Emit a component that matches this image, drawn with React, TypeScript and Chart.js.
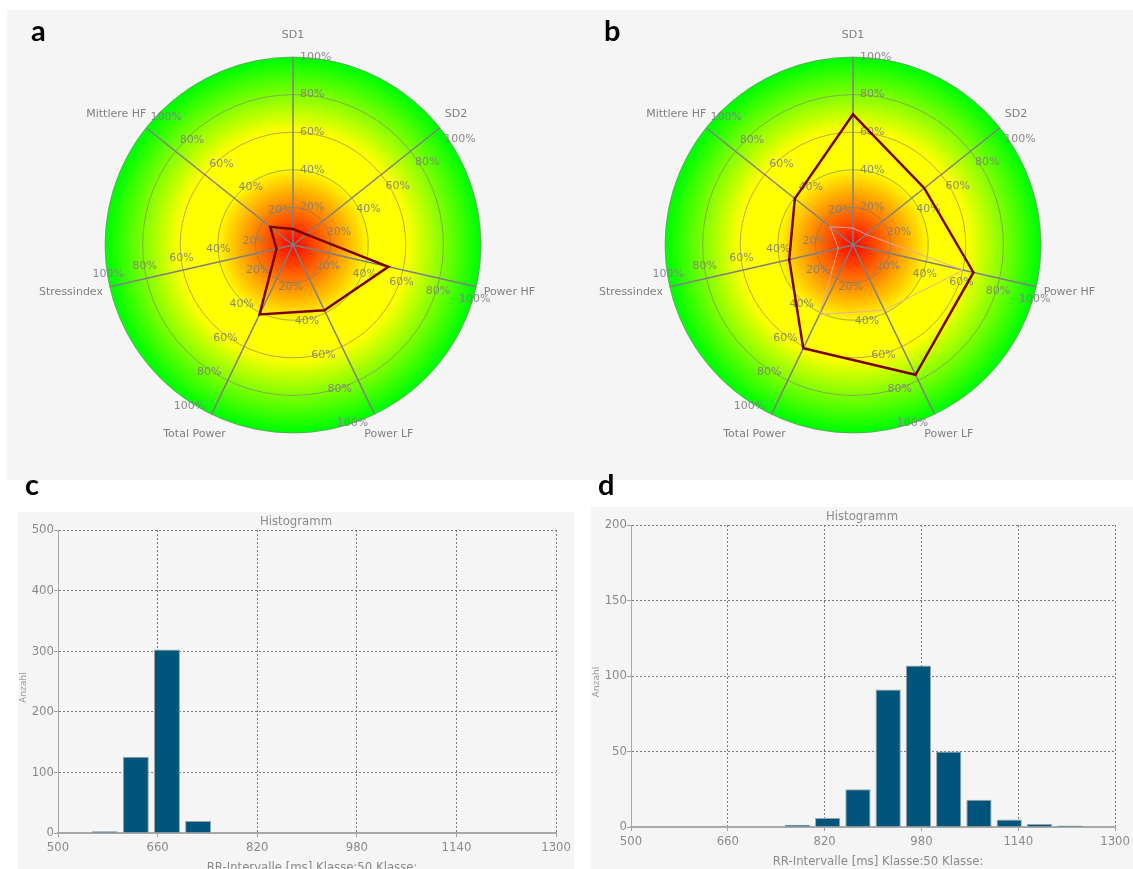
import React, { useEffect, useRef } from "react";
import { Chart, registerables } from "chart.js";

Chart.register(...registerables);

// ---------- data ----------
const radarAxes = ["SD1", "SD2", "Power HF", "Power LF", "Total Power", "Stressindex", "Mittlere HF"];
const radarTickValues = [20, 40, 60, 80, 100];
const radarValuesA = [8.5, 9, 52, 38.5, 41, 9, 15.5];
const radarValuesB = [69.5, 48.5, 65.7, 76.6, 61, 34.8, 39.6];
const radarReferenceB = [9, 9, 60, 38.5, 41, 8, 15.5];

const histXTicks = [500, 660, 820, 980, 1140, 1300];
const histBinsC = [575, 625, 675, 725];
const histCountsC = [3, 126, 303, 20];
const histYTicksC = [0, 100, 200, 300, 400, 500];
const histBinsD = [775, 825, 875, 925, 975, 1025, 1075, 1125, 1175, 1225];
const histCountsD = [1.5, 6, 25, 91, 107, 50, 18, 5, 2, 1];
const histYTicksD = [0, 50, 100, 150, 200];

const histTitle = "Histogramm";
const histXTitle = "RR-Intervalle [ms] Klasse:50 Klasse:";
const histYTitle = "Anzahl";

// ---------- styles ----------
const PANEL_BG = "#f5f5f5";
const RADAR_FONT = '11px "DejaVu Sans", Verdana, sans-serif';
const NARROW = '"Liberation Sans Narrow", "DejaVu Sans Condensed", "Liberation Sans", sans-serif';
const BAR_COLOR = "rgb(2,85,122)";

function radarPlugins() {
  return [
    {
      id: "radarBg",
      beforeDraw(chart: any) {
        const s = chart.scales.r;
        const ctx = chart.ctx;
        const cx = s.xCenter, cy = s.yCenter, R = s.drawingArea;
        const g = ctx.createRadialGradient(cx, cy, 0, cx, cy, R);
        g.addColorStop(0, "rgb(255,0,0)");
        g.addColorStop(0.41, "rgb(255,255,0)");
        g.addColorStop(0.61, "rgb(255,255,0)");
        g.addColorStop(0.99, "rgb(0,255,0)");
        g.addColorStop(1, "rgb(0,255,0)");
        ctx.save();
        ctx.beginPath();
        ctx.arc(cx, cy, R, 0, Math.PI * 2);
        ctx.fillStyle = g;
        ctx.fill();
        ctx.restore();
      },
    },
    {
      id: "radarText",
      beforeDatasetsDraw(chart: any) {
        const s = chart.scales.r;
        const ctx = chart.ctx;
        const cx = s.xCenter, cy = s.yCenter, R = s.drawingArea;
        ctx.save();
        ctx.font = RADAR_FONT;
        (chart.data.labels as string[]).forEach((lab, i) => {
          const end = s.getPointPositionForValue(i, 100);
          const dx = (end.x - cx) / R;
          const dy = (end.y - cy) / R;
          const px = -dy, py = dx;
          ctx.fillStyle = "rgba(128,128,128,0.9)";
          ctx.textAlign = px > 0.3 ? "left" : px < -0.3 ? "right" : "center";
          ctx.textBaseline = py > 0.3 ? "top" : py < -0.3 ? "bottom" : "middle";
          radarTickValues.forEach((v) => {
            const p = s.getPointPositionForValue(i, v);
            ctx.fillText(v + "%", p.x + px * 7, p.y + py * 7);
          });
          const hw = ctx.measureText(lab).width / 2;
          ctx.fillStyle = "#808080";
          ctx.textAlign = "center";
          ctx.textBaseline = "middle";
          ctx.fillText(lab, end.x + dx * (10 + 0.93 * hw), end.y + dy * 22);
        });
        ctx.restore();
      },
    },
  ];
}

function radarConfig(datasets: any[], padding: any) {
  return {
    type: "radar",
    data: { labels: radarAxes, datasets },
    options: {
      responsive: false,
      animation: false,
      devicePixelRatio: 1,
      layout: { padding },
      plugins: { legend: { display: false }, tooltip: { enabled: false } },
      elements: { line: { tension: 0, borderJoinStyle: "miter" }, point: { radius: 0, hoverRadius: 0 } },
      scales: {
        r: {
          min: 0,
          max: 100,
          ticks: { display: false, stepSize: 20 },
          pointLabels: { display: false },
          grid: { circular: true, color: "rgba(120,120,120,0.6)", lineWidth: 1 },
          angleLines: { color: "#7f7f7f", lineWidth: 1.5 },
        },
      },
    },
    plugins: radarPlugins(),
  };
}

function histConfig(bins: number[], counts: number[], yTicks: number[], xAxisHeight: number, rightPad: number, tickPad: number) {
  const textPlugin = {
    id: "histText",
    afterDraw(chart: any) {
      const { ctx, chartArea } = chart;
      ctx.save();
      ctx.fillStyle = "#8a8a8a";
      ctx.textAlign = "center";
      ctx.textBaseline = "middle";
      ctx.font = "13px " + NARROW;
      ctx.fillText(histTitle, chart.width / 2, 10);
      ctx.fillText(histXTitle, (chartArea.left + chartArea.right) / 2 + 5, chartArea.bottom + 35);
      ctx.translate(5.5, (chartArea.top + chartArea.bottom) / 2 + 6);
      ctx.rotate(-Math.PI / 2);
      ctx.font = '9px "DejaVu Sans", sans-serif';
      ctx.fillStyle = "#9a9a9a";
      ctx.fillText(histYTitle, 0, 0);
      ctx.restore();
    },
  };
  return {
    type: "bar",
    data: {
      datasets: [
        {
          data: bins.map((x, i) => ({ x, y: counts[i] })),
          backgroundColor: BAR_COLOR,
          borderColor: "#9aa3aa",
          borderWidth: 1,
          categoryPercentage: 1,
          barPercentage: 0.835,
        },
      ],
    },
    options: {
      responsive: false,
      animation: false,
      devicePixelRatio: 1,
      layout: { padding: { top: 18, right: rightPad, left: 0, bottom: 0 } },
      plugins: { legend: { display: false }, tooltip: { enabled: false }, title: { display: false } },
      scales: {
        x: {
          type: "linear",
          min: 500,
          max: 1300,
          offset: false,
          afterBuildTicks: (s: any) => {
            s.ticks = histXTicks.map((v) => ({ value: v }));
          },
          afterFit: (s: any) => {
            s.height = xAxisHeight;
          },
          ticks: { color: "#8a8a8a", font: { family: NARROW, size: 13 }, padding: tickPad, maxRotation: 0, callback: (v: any) => String(v) },
          grid: { color: "#7a7a7a", lineWidth: 1, tickLength: 4, tickColor: "#a0a0a0", offset: false },
          border: { display: true, color: "#a8a8a8", width: 2, dash: [2, 2] },
        },
        y: {
          min: yTicks[0],
          max: yTicks[yTicks.length - 1],
          afterBuildTicks: (s: any) => {
            s.ticks = yTicks.map((v) => ({ value: v }));
          },
          afterFit: (s: any) => {
            s.width = 40;
          },
          ticks: { color: "#8a8a8a", font: { family: NARROW, size: 13 }, padding: 0, callback: (v: any) => String(v) },
          grid: { color: "#7a7a7a", lineWidth: 1, tickLength: 4, tickColor: "#a0a0a0" },
          border: { display: true, color: "#a8a8a8", width: 1, dash: [2, 2] },
        },
      },
    },
    plugins: [textPlugin],
  };
}

function ChartCanvas({ left, top, width, height, makeConfig }: any) {
  const ref = useRef<HTMLCanvasElement>(null);
  useEffect(() => {
    const chart = new Chart(ref.current as HTMLCanvasElement, makeConfig());
    return () => chart.destroy();
  }, []);
  return (
    <canvas
      ref={ref}
      width={width}
      height={height}
      style={{ position: "absolute", left, top, width, height, display: "block" }}
    />
  );
}

function Letter({ ch, left, top }: any) {
  return (
    <div
      style={{
        position: "absolute",
        left,
        top,
        fontFamily: "Lato, 'Open Sans', sans-serif",
        fontWeight: 700,
        fontSize: 29,
        lineHeight: "29px",
        color: "#000",
      }}
    >
      {ch}
    </div>
  );
}

export default function App() {
  return (
    <div style={{ position: "absolute", left: 0, top: 0, width: 1133, height: 869, background: "#fff", overflow: "hidden" }}>
      <div style={{ position: "absolute", left: 7, top: 10, width: 1126, height: 470, background: PANEL_BG }} />
      <div style={{ position: "absolute", left: 18, top: 512, width: 556, height: 357, background: PANEL_BG }} />
      <div style={{ position: "absolute", left: 591, top: 507, width: 542, height: 362, background: PANEL_BG }} />

      <ChartCanvas
        left={7}
        top={10}
        width={560}
        height={470}
        makeConfig={() =>
          radarConfig(
            [{ data: radarValuesA, borderColor: "#7b0000", borderWidth: 2.5, fill: false }],
            { left: 98, right: 86, top: 47, bottom: 47 }
          )
        }
      />
      <ChartCanvas
        left={567}
        top={10}
        width={566}
        height={470}
        makeConfig={() =>
          radarConfig(
            [
              { data: radarReferenceB, borderColor: "rgba(225,170,170,0.95)", borderWidth: 1, fill: false },
              { data: radarValuesB, borderColor: "#7b0000", borderWidth: 2.5, fill: false },
            ],
            { left: 98, right: 92, top: 47, bottom: 47 }
          )
        }
      />
      <ChartCanvas
        left={18}
        top={512}
        width={556}
        height={357}
        makeConfig={() => histConfig(histBinsC, histCountsC, histYTicksC, 36, 16, 3)}
      />
      <ChartCanvas
        left={591}
        top={507}
        width={542}
        height={362}
        makeConfig={() => histConfig(histBinsD, histCountsD, histYTicksD, 42, 10, 3)}
      />

      <Letter ch="a" left={31} top={15} />
      <Letter ch="b" left={604} top={15} />
      <Letter ch="c" left={25} top={469} />
      <Letter ch="d" left={598} top={469} />
    </div>
  );
}
